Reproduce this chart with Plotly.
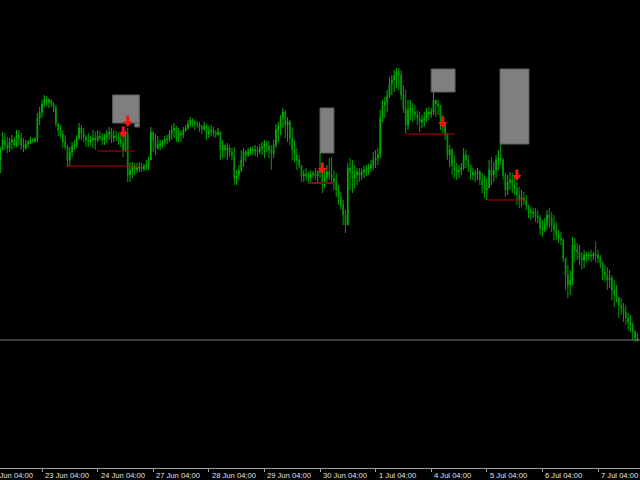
import plotly.graph_objects as go

# ---- data (price in chart units, bars indexed hourly, weekends skipped) ----
highs = [
    453, 468, 467, 463, 462, 465, 463, 470, 470, 467,
    462, 460, 460, 463, 462, 463, 487, 493, 500, 505,
    504, 502, 500, 498, 495, 477, 475, 470, 465, 455,
    453, 458, 460, 465, 477, 475, 472, 465, 467, 464,
    470, 468, 470, 469, 467, 466, 470, 473, 472, 470,
    469, 467, 465, 470, 470, 472, 437, 438, 437, 437,
    438, 437, 436, 440, 443, 473, 468, 466, 464, 460,
    460, 464, 465, 470, 475, 477, 474, 472, 470, 473,
    475, 480, 483, 482, 480, 479, 478, 475, 478, 476,
    474, 475, 473, 470, 472, 468, 460, 455, 457, 455,
    452, 453, 430, 435, 450, 452, 450, 452, 453, 454,
    455, 454, 456, 458, 460, 459, 459, 455, 460, 476,
    478, 485, 492, 490, 483, 480, 473, 460, 452, 445,
    435, 430, 432, 428, 430, 429, 432, 430, 448, 435,
    430, 435, 442, 443, 430, 427, 415, 408, 400, 390,
    437, 442, 440, 435, 432, 432, 432, 434, 435, 436,
    440, 448, 450, 452, 490, 500, 503, 510, 523, 525,
    530, 532, 532, 530, 515, 510, 500, 500, 497, 495,
    490, 488, 485, 488, 492, 493, 492, 509, 500, 500,
    495, 485, 475, 467, 455, 452, 445, 437, 435, 437,
    452, 450, 445, 435, 432, 430, 432, 430, 427, 425,
    422, 440, 443, 438, 445, 450, 457, 442, 427, 425,
    428, 427, 425, 418, 413, 410, 408, 405, 395, 393,
    392, 392, 390, 385, 380, 382, 390, 392, 388, 385,
    378, 370, 368, 362, 342, 335, 330, 363, 362, 357,
    355, 348, 350, 348, 348, 350, 348, 358, 350, 345,
    338, 335, 333, 330, 325, 320, 315, 303, 302, 297,
    295, 287, 285, 278, 270, 267,
]
lows = [
    427, 450, 450, 447, 448, 450, 452, 453, 455, 450,
    448, 450, 452, 456, 457, 457, 458, 475, 482, 493,
    494, 492, 493, 488, 473, 464, 462, 452, 450, 433,
    434, 443, 450, 452, 460, 460, 458, 453, 453, 454,
    452, 450, 458, 459, 455, 455, 457, 460, 457, 458,
    459, 455, 453, 443, 448, 418, 418, 422, 425, 427,
    428, 428, 429, 430, 430, 440, 448, 445, 450, 450,
    452, 454, 456, 458, 460, 462, 458, 457, 458, 462,
    468, 470, 473, 473, 470, 472, 468, 466, 469, 460,
    462, 464, 463, 462, 465, 440, 442, 442, 440, 443,
    440, 415, 415, 420, 428, 433, 438, 443, 445, 445,
    444, 443, 446, 445, 442, 448, 442, 430, 442, 452,
    458, 465, 472, 462, 458, 455, 440, 438, 430, 432,
    418, 418, 420, 417, 418, 422, 420, 418, 422, 407,
    412, 418, 420, 417, 410, 403, 395, 390, 375, 367,
    375, 410, 407, 412, 415, 418, 420, 422, 424, 425,
    428, 430, 432, 435, 442, 478, 482, 488, 502, 505,
    508, 512, 510, 500, 487, 467, 470, 480, 478, 480,
    475, 468, 472, 473, 478, 480, 482, 485, 483, 485,
    470, 467, 460, 440, 433, 425, 422, 420, 422, 425,
    430, 432, 428, 420, 420, 418, 420, 415, 407, 402,
    400, 412, 415, 418, 422, 430, 435, 420, 403, 405,
    410, 407, 405, 395, 392, 393, 395, 390, 382, 380,
    382, 378, 377, 365, 363, 368, 370, 372, 368, 360,
    360, 357, 355, 338, 310, 302, 305, 315, 338, 340,
    335, 330, 332, 338, 340, 338, 340, 338, 337, 332,
    320, 318, 310, 312, 300, 293, 298, 282, 285, 278,
    275, 270, 268, 260, 258, 258,
]
closes = [
    450, 460, 455, 452, 458, 460, 455, 465, 462, 455,
    452, 456, 458, 460, 459, 461, 482, 488, 496, 501,
    498, 500, 496, 492, 476, 470, 466, 458, 453, 440,
    448, 454, 455, 462, 472, 467, 463, 460, 458, 460,
    462, 460, 464, 462, 460, 463, 466, 468, 462, 464,
    463, 460, 457, 450, 466, 425, 430, 434, 430, 432,
    433, 431, 434, 435, 440, 468, 460, 452, 455, 456,
    458, 460, 461, 466, 470, 472, 462, 467, 465, 470,
    472, 476, 480, 478, 476, 475, 473, 471, 474, 466,
    469, 470, 467, 465, 468, 450, 455, 450, 452, 448,
    445, 422, 425, 430, 440, 448, 445, 449, 451, 449,
    450, 448, 452, 453, 456, 454, 450, 447, 455, 470,
    474, 482, 488, 475, 478, 462, 450, 445, 440, 435,
    424, 426, 424, 422, 425, 426, 424, 428, 430, 415,
    422, 428, 425, 422, 418, 410, 402, 395, 385, 375,
    432, 428, 422, 425, 428, 425, 428, 430, 431, 432,
    435, 440, 442, 445, 482, 495, 498, 504, 516, 520,
    524, 528, 525, 505, 492, 475, 490, 492, 488, 485,
    482, 478, 480, 482, 488, 486, 488, 500, 496, 494,
    482, 475, 465, 445, 450, 435, 430, 428, 430, 432,
    445, 440, 435, 428, 425, 426, 428, 420, 415, 410,
    412, 430, 425, 430, 440, 442, 440, 425, 410, 418,
    420, 415, 412, 405, 400, 402, 400, 395, 390, 387,
    388, 384, 382, 372, 370, 375, 385, 382, 375, 370,
    365, 362, 360, 342, 325, 315, 320, 355, 350, 348,
    342, 340, 345, 344, 345, 344, 346, 345, 342, 338,
    328, 325, 320, 322, 310, 305, 302, 295, 292, 288,
    282, 278, 275, 268, 262, 260,
]
first_open = 440
opens = [first_open] + closes[:-1]
bars = list(range(len(closes)))

tick_bars = [-6, 18, 42, 66, 90, 114, 138, 162, 186, 210, 234, 258]
tick_labels = ["22 Jun 04:00", "23 Jun 04:00", "24 Jun 04:00", "27 Jun 04:00",
               "28 Jun 04:00", "29 Jun 04:00", "30 Jun 04:00", "1 Jul 04:00",
               "4 Jul 04:00", "5 Jul 04:00", "6 Jul 04:00", "7 Jul 04:00"]

# support levels (red horizontal segments): start bar, end bar, price
level_start = [29, 42, 133, 175, 210]
level_end = [59.5, 58, 143.5, 196, 226.5]
level_price = [434, 449, 417, 466, 400]

# sell signal arrows
arrow_bars = [53, 55, 139, 191, 223]
arrow_price = [468, 479, 432, 478, 425]

# gray zones: start bar, end bar, bottom price, top price
zone_x0 = [48.5, 58, 138, 186, 215.7]
zone_x1 = [60, 60, 144, 196.3, 228.2]
zone_y0 = [477, 473, 447, 508, 456]
zone_y1 = [505, 477, 492, 531, 531]

bid_price = closes[-1]

x_range = [-0.13, 276.13]
y_range = [132, 600]

fig = go.Figure()

fig.add_trace(go.Candlestick(
    x=bars, open=opens, high=highs, low=lows, close=closes,
    increasing=dict(line=dict(color="#00b400", width=1), fillcolor="#004800"),
    decreasing=dict(line=dict(color="#00a000", width=1), fillcolor="#003000"),
    whiskerwidth=0, hoverinfo="skip", showlegend=False,
))

# red level lines
for i in range(len(level_price)):
    thick = (i == 2)
    fig.add_trace(go.Scatter(
        x=[level_start[i], level_end[i]], y=[level_price[i], level_price[i]],
        mode="lines",
        line=dict(color="#7a1010" if thick else "#c00000", width=2 if thick else 1),
        hoverinfo="skip", showlegend=False,
    ))

# arrows: stem + head
fig.add_trace(go.Scatter(
    x=arrow_bars, y=[p + 2 for p in arrow_price], mode="markers",
    marker=dict(symbol="line-ns", size=5, line=dict(color="#ff1010", width=3)),
    hoverinfo="skip", showlegend=False,
))
fig.add_trace(go.Scatter(
    x=arrow_bars, y=[p - 2 for p in arrow_price], mode="markers",
    marker=dict(symbol="triangle-down", size=8, color="#ff1010", line=dict(width=0)),
    hoverinfo="skip", showlegend=False,
))

shapes = []
for i in range(len(zone_x0)):
    shapes.append(dict(type="rect", xref="x", yref="y",
                       x0=zone_x0[i], x1=zone_x1[i], y0=zone_y0[i], y1=zone_y1[i],
                       fillcolor="#7f7f7f", line=dict(color="#606060", width=1),
                       layer="below"))
shapes.append(dict(type="line", xref="paper", yref="y", x0=0, x1=1,
                   y0=bid_price, y1=bid_price,
                   line=dict(color="#7a7a7a", width=1)))

annotations = []
span = x_range[1] - x_range[0]
for tb, tl in zip(tick_bars, tick_labels):
    annotations.append(dict(
        x=(tb - x_range[0]) / span, xref="paper", y=0, yref="paper",
        text=tl, showarrow=False, xanchor="left", yanchor="top",
        xshift=1, yshift=-1,
        font=dict(family="Liberation Sans", size=7.6, color="#e0e0e0"),
    ))

fig.update_layout(
    width=640, height=480,
    margin=dict(l=0, r=0, t=0, b=12),
    paper_bgcolor="black", plot_bgcolor="black",
    shapes=shapes, annotations=annotations,
    showlegend=False, boxgap=0.55,
    xaxis=dict(range=x_range, showgrid=False, zeroline=False,
               rangeslider=dict(visible=False),
               showline=True, linecolor="#a0a0a0", linewidth=1,
               ticks="outside", ticklen=3, tickcolor="#a0a0a0",
               tickvals=tick_bars, showticklabels=False, fixedrange=True),
    yaxis=dict(range=y_range, visible=False, fixedrange=True),
)

fig.write_html(
    "out.html",
    config={"displayModeBar": False},
    post_script="document.body.style.margin='0';document.body.style.background='black';",
)
